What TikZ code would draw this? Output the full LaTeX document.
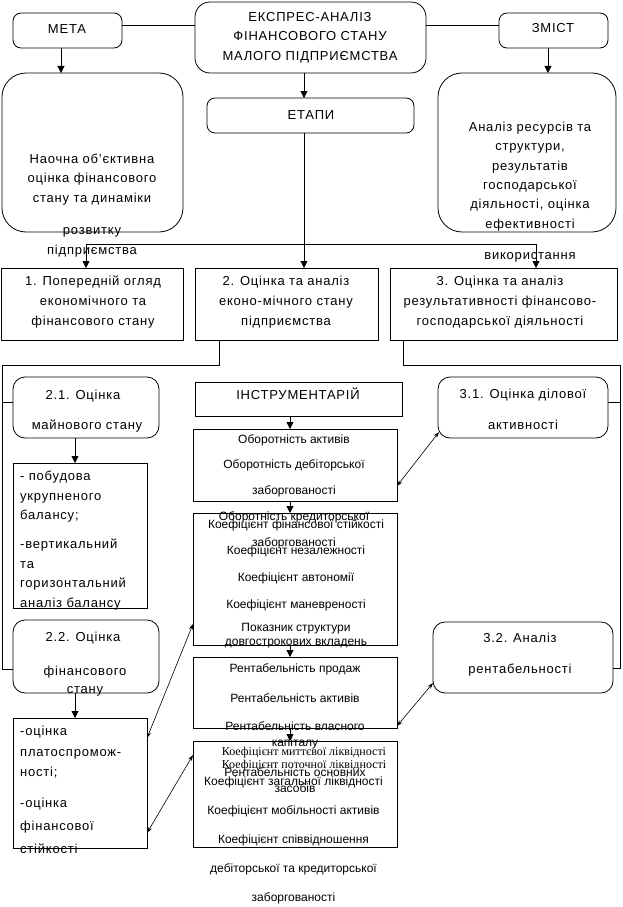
\documentclass[tikz,border=0pt]{standalone}
\usepackage{fontspec}
\setmainfont{Liberation Sans}
\newfontfamily\mf[LetterSpace=6]{Liberation Sans}
\newfontfamily\nsf{Liberation Sans}
\newfontfamily\nsr{Liberation Serif}
\usetikzlibrary{arrows.meta}
\begin{document}
\begin{tikzpicture}[x=1pt,y=-1pt,
 bx/.style={draw,line width=0.8pt,inner sep=0pt,outer sep=0pt},
 rb/.style={bx,rounded corners=#1},
 arr/.style={line width=0.8pt,-{Triangle[length=7pt,width=7pt]}},
 darr/.style={line width=0.6pt,{Stealth[length=6pt,width=4pt]}-{Stealth[length=6pt,width=4pt]}},
 ln/.style={line width=0.8pt},
 tm/.style={inner sep=0pt,align=center,font={\mf\fontsize{13}{#1}\selectfont}},
 tm/.default=19.5,
 tl/.style={tm=#1,align=left,anchor=west},
 tl/.default=19.5,
 ts/.style={inner sep=0pt,align=center,font={\nsf\fontsize{12}{#1}\selectfont}},
 ts/.default=26,
 tr/.style={inner sep=0pt,align=center,font={\nsr\fontsize{12}{#1}\selectfont}},
 tr/.default=13]
\useasboundingbox (0,0) rectangle (622,907);
% boxes
\node[rb=8pt,minimum width=109pt,minimum height=35pt] (meta) at (67.5,30.5) {};
\node[rb=15pt,minimum width=231pt,minimum height=71pt] (main) at (310.5,37.5) {};
\node[rb=8pt,minimum width=109pt,minimum height=35pt] (zmist) at (553.5,30.5) {};
\node[rb=24pt,minimum width=181pt,minimum height=159pt] (bigL) at (92.5,152.5) {};
\node[rb=8pt,minimum width=207pt,minimum height=35pt] (etapy) at (310.5,115.5) {};
\node[rb=24pt,minimum width=178pt,minimum height=159pt] (bigR) at (527,152.5) {};
\node[bx,minimum width=182pt,minimum height=72pt] (b1) at (92,304) {};
\node[bx,minimum width=183pt,minimum height=72pt] (b2) at (286.5,304) {};
\node[bx,minimum width=227pt,minimum height=72pt] (b3) at (503.5,304) {};
\node[rb=12pt,minimum width=146pt,minimum height=61pt] (s21) at (86,407.5) {};
\node[bx,minimum width=134pt,minimum height=145pt] (list1) at (80,535.5) {};
\node[rb=12pt,minimum width=146pt,minimum height=73pt] (s22) at (86,656.5) {};
\node[bx,minimum width=134pt,minimum height=130pt] (list2) at (80,783) {};
\node[bx,minimum width=207pt,minimum height=34pt] (instr) at (298.5,399) {};
\node[bx,minimum width=204pt,minimum height=72pt] (boxA) at (295,465) {};
\node[bx,minimum width=204pt,minimum height=132pt] (boxB) at (295,579) {};
\node[bx,minimum width=204pt,minimum height=71pt] (boxC) at (295,692.5) {};
\node[bx,minimum width=204pt,minimum height=106pt] (boxD) at (295,794) {};
\node[rb=12pt,minimum width=170pt,minimum height=61pt] (s31) at (523,407.5) {};
\node[rb=12pt,minimum width=180pt,minimum height=71pt] (s32) at (523,657.5) {};
% texts
\node[tm] (tmeta) at (67,29) {МЕТА};
\node[tm] (tmain) at (310,37.5) {ЕКСПРЕС-АНАЛІЗ\\ФІНАНСОВОГО СТАНУ\\МАЛОГО ПІДПРИЄМСТВА};
\node[tm] (tzmist) at (553,28) {ЗМІСТ};
\node[tm] (tetapy) at (311,115) {ЕТАПИ};
\node[tm] (tbigL) at (92,179.5) {Наочна об’єктивна\\оцінка фінансового\\стану та динаміки};
\node[tm=20] (tbigL2) at (92,242) {розвитку\\підприємства};
\node[tm=19.4] (tbigR) at (530,176.5) {Аналіз ресурсів та\\структури,\\результатів\\господарської\\діяльності, оцінка\\ефективності};
\node[tm] (tbigR2) at (530,257) {використання};
\node[tm=20] (tb1) at (93,302) {1. Попередній огляд\\економічного та\\фінансового стану};
\node[tm=20] (tb2) at (286,302) {2. Оцінка та аналіз\\еконо-мічного стану\\підприємства};
\node[tm=20] (tb3) at (500,302) {3. Оцінка та аналіз\\результативності фінансово-\\господарської діяльності};
\node[tm] (ts21a) at (83,396) {2.1. Оцінка};
\node[tm] (ts21b) at (87,426) {майнового стану};
\node[tl] (tl1a) at (20,497) {- побудова\\укрупненого\\балансу;};
\node[tl] (tl1b) at (20,574.5) {-вертикальний\\та\\горизонтальний\\аналіз балансу};
\node[tm] (ts22a) at (83,638) {2.2. Оцінка};
\node[tm=18] (ts22b) at (85,681) {фінансового\\стану};
\node[tl=20.5] (tl2a) at (20,752.5) {-оцінка\\платоспромож-\\ності;};
\node[tl=23] (tl2b) at (20,826) {-оцінка\\фінансової\\стійкості};
\node[tm] (ts31a) at (523,395) {3.1. Оцінка ділової};
\node[tm] (ts31b) at (523,425) {активності};
\node[tm] (ts32a) at (520,638) {3.2. Аналіз};
\node[tm] (ts32b) at (520,670) {рентабельності};
\node[tm] (tinstr) at (298,394) {ІНСТРУМЕНТАРІЙ};
\node[ts=25.75] (tA) at (294,491.5) {Оборотність активів\\Оборотність дебіторської\\заборгованості\\Оборотність кредиторської\\заборгованості};
\node[ts=26.7] (tB1) at (296,565) {Коефіцієнт фінансової стійкості\\Коефіцієнт незалежності\\Коефіцієнт автономії\\Коефіцієнт маневреності};
\node[ts=14] (tB2) at (296,636) {Показник структури\\довгострокових вкладень};
\node[ts] (tC1) at (295,669) {Рентабельність продаж};
\node[ts] (tC2) at (295,698) {Рентабельність активів};
\node[ts=16] (tC3) at (295,735) {Рентабельність власного\\капіталу};
\node[ts=16] (tC4) at (295,780) {Рентабельність основних\\засобів};
\node[tr] (tD1) at (304,759.5) {Коефіцієнт миттєвої ліквідності\\Коефіцієнт поточної ліквідності};
\node[ts=29] (tD2) at (293.5,840) {Коефіцієнт загальної ліквідності\\Коефіцієнт мобільності активів\\Коефіцієнт співвідношення\\дебіторської та кредиторської\\заборгованості};
% connectors
\coordinate (yt) at (0,25);
\draw[ln] (meta.east |- yt) -- (main.west |- yt);
\draw[ln] (main.east |- yt) -- (zmist.west |- yt);
\coordinate (mx) at (61,0);
\draw[arr] (meta.south -| mx) -- (bigL.north -| mx);
\coordinate (ex) at (304,0);
\draw[arr] (main.south -| ex) -- (etapy.north -| ex);
\coordinate (zx) at (548,0);
\draw[arr] (zmist.south -| zx) -- (bigR.north -| zx);
\draw[arr] (etapy.south -| ex) -- (b2.north -| ex);
\coordinate (hL) at (86,244);
\coordinate (hR) at (536,244);
\draw[ln] (hL) -- (hR);
\draw[arr] (hL) -- (b1.north -| hL);
\draw[arr] (hR) -- (b3.north -| hR);
\coordinate (lb1) at (219,365);
\coordinate (lb2) at (2,365);
\coordinate (lb3) at (2,669);
\draw[ln] (b2.south -| lb1) -- (lb1) -- (lb2) -- (lb3) -- (lb3 -| s22.west);
\coordinate (l21) at (2,402);
\draw[ln] (l21) -- (l21 -| s21.west);
\coordinate (rb1) at (403,365);
\coordinate (rb2) at (620,365);
\coordinate (rb3) at (620,668);
\draw[ln] (b3.south -| rb1) -- (rb1) -- (rb2) -- (rb3) -- (rb3 -| s32.east);
\coordinate (r31) at (620,402);
\draw[ln] (r31) -- (r31 -| s31.east);
\coordinate (ax) at (75,0);
\draw[arr] (s21.south -| ax) -- (list1.north -| ax);
\draw[arr] (s22.south -| ax) -- (list2.north -| ax);
\coordinate (cx) at (290,0);
\draw[arr] (instr.south -| cx) -- (boxA.north -| cx);
\draw[arr] (boxA.south -| cx) -- (boxB.north -| cx);
\draw[arr] (boxB.south -| cx) -- (boxC.north -| cx);
\draw[arr] (boxC.south -| cx) -- (boxD.north -| cx);
\coordinate (y486) at (0,486);
\coordinate (p31) at (439,432);
\draw[darr] (boxA.east |- y486) -- (p31);
\coordinate (y726) at (0,726);
\coordinate (y683) at (0,683);
\draw[darr] (boxC.east |- y726) -- (s32.west |- y683);
\coordinate (y738) at (0,738);
\coordinate (y624) at (0,624);
\draw[darr] (list2.east |- y738) -- (boxB.west |- y624);
\coordinate (y833) at (0,833);
\coordinate (y755) at (0,755);
\draw[darr] (list2.east |- y833) -- (boxD.west |- y755);
\end{tikzpicture}
\end{document}
